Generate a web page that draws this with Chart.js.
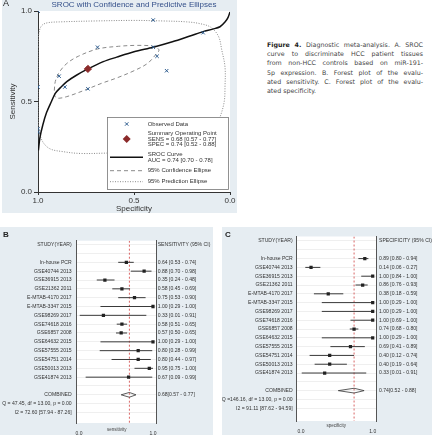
<!DOCTYPE html>
<html>
<head>
<meta charset="utf-8">
<script src="https://cdn.jsdelivr.net/npm/chart.js@4.4.0/dist/chart.umd.min.js"></script>
<style>
  body { margin:0; background:#fff; width:432px; height:435px; position:relative; overflow:hidden; }
  canvas { position:absolute; }
  #sroc { left:2px; top:0; }
  #sensForest { left:0; top:227px; }
  #specForest { left:222px; top:227px; }
  .cap { position:absolute; left:267px; top:40px; width:156px; font:6.3px/9.2px "DejaVu Sans", sans-serif; color:#444; }
  .cap span { display:block; text-align:justify; text-align-last:justify; }
  .cap span.last { text-align-last:left; }
  .cap b { color:#222; }
</style>
</head>
<body>
<canvas id="sroc" width="235" height="213"></canvas>
<canvas id="sensForest" width="213" height="208"></canvas>
<canvas id="specForest" width="210" height="208"></canvas>
<div class="cap">
<span><b>Figure 4.</b> Diagnostic meta-analysis. A. SROC</span>
<span>curve to discriminate HCC patient tissues</span>
<span>from non-HCC controls based on miR-191-</span>
<span>5p expression. B. Forest plot of the evalu-</span>
<span>ated sensitivity. C. Forest plot of the evalu-</span>
<span class="last">ated specificity.</span>
</div>
<script>
// study list, same order in both forest plots
var studies = ['In-house PCR', 'GSE40744 2013', 'GSE36915 2013', 'GSE21362 2011', 'E-MTAB-4170 2017',
  'E-MTAB-3347 2015', 'GSE98269 2017', 'GSE74618 2016', 'GSE6857 2008', 'GSE64632 2015',
  'GSE57555 2015', 'GSE54751 2014', 'GSE50013 2013', 'GSE41874 2013'];

var sensVal  = [0.64, 0.88, 0.35, 0.58, 0.75, 1.00, 0.33, 0.58, 0.57, 1.00, 0.80, 0.80, 0.95, 0.67];
var sensLow  = [0.53, 0.70, 0.24, 0.45, 0.53, 0.29, 0.01, 0.51, 0.50, 0.29, 0.28, 0.44, 0.75, 0.09];
var sensHigh = [0.74, 0.98, 0.48, 0.69, 0.90, 1.00, 0.91, 0.65, 0.65, 1.00, 0.99, 0.97, 1.00, 0.99];

var specVal  = [0.89, 0.14, 1.00, 0.86, 0.38, 1.00, 1.00, 1.00, 0.74, 1.00, 0.69, 0.40, 0.40, 0.33];
var specLow  = [0.80, 0.06, 0.84, 0.76, 0.18, 0.29, 0.29, 0.69, 0.68, 0.29, 0.41, 0.12, 0.19, 0.01];
var specHigh = [0.94, 0.27, 1.00, 0.93, 0.59, 1.00, 1.00, 1.00, 0.80, 1.00, 0.89, 0.74, 0.64, 0.91];

// pooled estimate [value, low, high]
var sensPooled = [0.68, 0.57, 0.77];
var specPooled = [0.74, 0.52, 0.88];
var aucPooled  = [0.74, 0.70, 0.78];
var sensHet = 'Q = 47.45, df = 13.00, p = 0.00';
var sensI2  = 'I2 = 72.60 [57.94 - 87.26]';
var specHet = 'Q =146.16, df = 13.00, p = 0.00';
var specI2  = 'I2 = 91.11 [87.62 - 94.59]';

// SROC curve
var srocSpec = [0.998, 0.99, 0.975, 0.955, 0.93, 0.91, 0.88, 0.85, 0.80, 0.74, 0.66, 0.59, 0.50, 0.40, 0.30, 0.20, 0.14, 0.09, 0.052, 0.025, 0.01, 0.0];
var srocSens = [0.23, 0.30, 0.37, 0.44, 0.50, 0.545, 0.58, 0.61, 0.645, 0.68, 0.72, 0.745, 0.775, 0.80, 0.83, 0.865, 0.886, 0.90, 0.913, 0.94, 0.965, 0.995];

// 95% confidence ellipse
var confSpec = [0.915, 0.91, 0.89, 0.85, 0.79, 0.69, 0.58, 0.48, 0.40, 0.37, 0.39, 0.43, 0.50, 0.59, 0.67, 0.74, 0.80, 0.85, 0.89, 0.91, 0.915];
var confSens = [0.56, 0.61, 0.66, 0.71, 0.75, 0.79, 0.805, 0.81, 0.805, 0.785, 0.755, 0.71, 0.67, 0.63, 0.60, 0.57, 0.545, 0.527, 0.518, 0.525, 0.56];

// 95% prediction ellipse
var predSpec = [1.0, 0.995, 0.98, 0.95, 0.88, 0.70, 0.50, 0.35, 0.226, 0.156, 0.10, 0.06, 0.043, 0.026, 0.026, 0.03, 0.05, 0.08, 0.15, 0.30, 0.45, 0.64, 0.78, 0.87, 0.94, 0.98, 0.998, 1.0, 1.0, 1.0];
var predSens = [0.80, 0.88, 0.92, 0.935, 0.94, 0.945, 0.948, 0.945, 0.94, 0.93, 0.91, 0.86, 0.785, 0.69, 0.58, 0.50, 0.42, 0.35, 0.29, 0.24, 0.22, 0.215, 0.213, 0.223, 0.24, 0.287, 0.37, 0.50, 0.65, 0.80];

var panelColor = '#e6edf2';
Chart.defaults.font.family = '"Liberation Sans", Arial, sans-serif';
Chart.defaults.color = '#333';

function pts(xs, ys) {
  return xs.map(function (x, i) { return { x: x, y: ys[i] }; });
}

var panelBg = {
  id: 'panelBg',
  beforeDraw: function (chart, args, o) {
    var ctx = chart.ctx, a = chart.chartArea;
    ctx.save();
    ctx.fillStyle = panelColor;
    ctx.fillRect(0, 0, chart.width, chart.height);
    ctx.fillStyle = '#fff';
    ctx.fillRect(a.left, a.top, a.right - a.left, a.bottom - a.top);
    ctx.fillStyle = '#222';
    ctx.font = o.letterFont;
    ctx.textBaseline = 'top';
    ctx.fillText(o.letter, o.lx, o.ly);
    ctx.restore();
  }
};

// ---------- A: SROC ----------
var srocExtras = {
  id: 'srocExtras',
  afterDraw: function (chart) {
    var ctx = chart.ctx, a = chart.chartArea;
    ctx.save();
    // title
    ctx.fillStyle = '#34508a';
    ctx.font = '8px "Liberation Sans", Arial';
    ctx.textAlign = 'center';
    ctx.textBaseline = 'middle';
    ctx.fillText('SROC with Confidence and Predictive Ellipses', (a.left + a.right) / 2, 5);

    // legend box
    var bx = a.right - 123, by = a.bottom - 75, bw = 121, bh = 72;
    ctx.fillStyle = '#fff';
    ctx.fillRect(bx, by, bw, bh);
    ctx.strokeStyle = '#777';
    ctx.lineWidth = 0.8;
    ctx.strokeRect(bx + 0.5, by + 0.5, bw, bh);

    var mx = bx + 19.7, tx = bx + 40.7;
    // observed
    ctx.strokeStyle = '#2c5b8e';
    ctx.lineWidth = 1;
    ctx.beginPath();
    ctx.moveTo(mx - 1.7, by + 5.3); ctx.lineTo(mx + 1.7, by + 8.7);
    ctx.moveTo(mx + 1.7, by + 5.3); ctx.lineTo(mx - 1.7, by + 8.7);
    ctx.stroke();
    // summary diamond
    ctx.fillStyle = '#8b2a2a';
    ctx.beginPath();
    ctx.moveTo(mx, by + 18); ctx.lineTo(mx + 4, by + 22); ctx.lineTo(mx, by + 26); ctx.lineTo(mx - 4, by + 22);
    ctx.closePath(); ctx.fill();
    // sroc line
    ctx.strokeStyle = '#111';
    ctx.lineWidth = 1.5;
    ctx.beginPath(); ctx.moveTo(bx + 3, by + 40.3); ctx.lineTo(bx + 36, by + 40.3); ctx.stroke();
    // confidence
    ctx.strokeStyle = '#8a8a8a';
    ctx.lineWidth = 1;
    ctx.setLineDash([4, 3]);
    ctx.beginPath(); ctx.moveTo(bx + 3, by + 53.7); ctx.lineTo(bx + 36, by + 53.7); ctx.stroke();
    // prediction
    ctx.setLineDash([1, 1.5]);
    ctx.beginPath(); ctx.moveTo(bx + 3, by + 64.7); ctx.lineTo(bx + 36, by + 64.7); ctx.stroke();
    ctx.setLineDash([]);

    function ci(p) { return p[0].toFixed(2) + ' [' + p[1].toFixed(2) + ' - ' + p[2].toFixed(2) + ']'; }
    ctx.fillStyle = '#333';
    ctx.font = '6px "Liberation Sans", Arial';
    ctx.textAlign = 'left';
    ctx.fillText('Observed Data', tx, by + 7);
    ctx.fillText('Summary Operating Point', tx, by + 16.3);
    ctx.fillText('SENS = ' + ci(sensPooled), tx, by + 22);
    ctx.fillText('SPEC = ' + ci(specPooled), tx, by + 27.5);
    ctx.fillText('SROC Curve', tx, by + 37.3);
    ctx.fillText('AUC = ' + ci(aucPooled), tx, by + 43.3);
    ctx.fillText('95% Confidence Ellipse', tx, by + 53.7);
    ctx.fillText('95% Prediction Ellipse', tx, by + 64.7);
    ctx.restore();
  }
};

var axisFont = { size: 8 };
new Chart(document.getElementById('sroc'), {
  type: 'scatter',
  data: {
    datasets: [
      {
        label: 'Observed Data',
        data: pts(specVal, sensVal),
        pointStyle: 'crossRot', pointRadius: 2.4, borderColor: '#2c5b8e', borderWidth: 1
      },
      {
        label: 'Summary Operating Point',
        data: [{ x: specPooled[0], y: sensPooled[0] }],
        pointStyle: 'rectRot', pointRadius: 3.6, backgroundColor: '#8b2a2a', borderColor: '#8b2a2a'
      },
      {
        label: 'SROC Curve',
        data: pts(srocSpec, srocSens),
        showLine: true, pointRadius: 0, borderColor: '#111', borderWidth: 1.5, tension: 0.3
      },
      {
        label: '95% Confidence Ellipse',
        data: pts(confSpec, confSens),
        showLine: true, pointRadius: 0, borderColor: '#8a8a8a', borderWidth: 1, borderDash: [4, 3], tension: 0.35
      },
      {
        label: '95% Prediction Ellipse',
        data: pts(predSpec, predSens),
        showLine: true, pointRadius: 0, borderColor: '#8a8a8a', borderWidth: 1, borderDash: [1, 1.5], tension: 0.35
      }
    ]
  },
  options: {
    responsive: false,
    animation: false,
    devicePixelRatio: 1,
    layout: { padding: { top: 11, right: 7, left: 0, bottom: 0 } },
    plugins: {
      legend: { display: false },
      tooltip: { enabled: false },
      panelBg: { letter: 'A', lx: 1, ly: -1, letterFont: '9px "Liberation Sans", Arial' }
    },
    scales: {
      x: {
        type: 'linear', reverse: true, min: 0, max: 1,
        afterFit: function (s) { s.height = 21; },
        ticks: { stepSize: 0.5, padding: 1, font: axisFont, color: '#333', callback: function (v) { return v.toFixed(1); } },
        grid: { drawOnChartArea: false, tickLength: 3, color: '#333' },
        border: { color: '#333' },
        title: { display: true, text: 'Specificity', color: '#333', font: { size: 8, lineHeight: 1 }, padding: { top: 0, bottom: 0 } }
      },
      y: {
        min: 0, max: 1,
        afterFit: function (s) { s.width = 36; },
        ticks: { stepSize: 0.5, padding: 2, font: axisFont, color: '#333', callback: function (v) { return v.toFixed(1); } },
        grid: { drawOnChartArea: false, tickLength: 4, color: '#333' },
        border: { color: '#333' },
        title: { display: true, text: 'Sensitivity', color: '#333', font: { size: 8, lineHeight: 1.2 }, padding: { top: 6, bottom: 0 } }
      }
    }
  },
  plugins: [panelBg, srocExtras]
});

// ---------- B and C: forest plots ----------
function forest(canvasId, g, vals, lows, highs, pooled, headRight, het, i2, axisTitle) {
  var first = 2;
  var comb = studies.length + 3;
  var fmt = function (v, l, h) { return v.toFixed(2) + ' [' + l.toFixed(2) + ' - ' + h.toFixed(2) + ']'; };
  var leftLabels = ['STUDY(YEAR)', ''].concat(studies, ['', 'COMBINED', het, i2]);
  var rightLabels = [headRight, ''].concat(
    vals.map(function (v, i) { return fmt(v, lows[i], highs[i]); }),
    ['', pooled[0].toFixed(2) + '[' + pooled[1].toFixed(2) + ' - ' + pooled[2].toFixed(2) + ']', '', '']);

  var squares = vals.map(function (v, i) { return { x: v, y: first + i }; });
  var bars = [];
  lows.forEach(function (l, i) {
    bars.push({ x: l, y: first + i }, { x: highs[i], y: first + i }, { x: null, y: null });
  });
  var diamond = [
    { x: pooled[1], y: comb }, { x: pooled[0], y: comb - 0.27 },
    { x: pooled[2], y: comb }, { x: pooled[0], y: comb + 0.27 }, { x: pooled[1], y: comb }
  ];
  var refLine = [{ x: pooled[0], y: g.yMin }, { x: pooled[0], y: g.yMax }];
  var rowTicks = function (s) { s.ticks = leftLabels.map(function (_, i) { return { value: i }; }); };
  var labelFont = { size: 5.1 };

  return new Chart(document.getElementById(canvasId), {
    type: 'scatter',
    data: {
      datasets: [
        { data: squares, pointStyle: 'rect', pointRadius: 2.3, backgroundColor: '#222', borderColor: '#222', borderWidth: 0 },
        { data: bars, showLine: true, pointRadius: 0, borderColor: '#3a3a3a', borderWidth: 1 },
        { data: diamond, showLine: true, pointRadius: 0, borderColor: '#333', borderWidth: 0.8 },
        { data: refLine, showLine: true, pointRadius: 0, borderColor: '#d04040', borderWidth: 0.8, borderDash: [2, 2] }
      ]
    },
    options: {
      responsive: false,
      animation: false,
      devicePixelRatio: 1,
      layout: { padding: { top: g.top, right: 0, left: 0, bottom: 0 } },
      plugins: {
        legend: { display: false },
        tooltip: { enabled: false },
        panelBg: { letter: g.letter, lx: 3, ly: 4, letterFont: 'bold 8px "Liberation Sans", Arial' }
      },
      scales: {
        x: {
          type: 'linear', min: g.xMin, max: g.xMax,
          afterBuildTicks: function (s) { s.ticks = [{ value: 0 }, { value: 1 }]; },
          afterFit: function (s) { s.height = g.xH; },
          ticks: { padding: 0, font: { size: 5 }, color: '#333', callback: function (v) { return v.toFixed(1); } },
          grid: { display: false },
          border: { display: false },
          title: { display: true, text: axisTitle, color: '#444', font: { size: 4.5, lineHeight: 1 }, padding: { top: 0, bottom: g.titlePad } }
        },
        y: {
          type: 'linear', position: 'left', reverse: true, min: g.yMin, max: g.yMax,
          afterBuildTicks: rowTicks,
          afterFit: function (s) { s.width = g.leftW; },
          ticks: { autoSkip: false, padding: g.leftPad, font: labelFont, color: '#333',
                   callback: function (v, i) { return leftLabels[i]; } },
          grid: { color: '#efefef', drawTicks: false },
          border: { color: '#555', width: 1 }
        },
        y2: {
          type: 'linear', position: 'right', reverse: true, min: g.yMin, max: g.yMax,
          afterBuildTicks: rowTicks,
          afterFit: function (s) { s.width = g.rightW; },
          ticks: { autoSkip: false, padding: g.rightPad, font: labelFont, color: '#333',
                   callback: function (v, i) { return rightLabels[i]; } },
          grid: { drawOnChartArea: false, drawTicks: false },
          border: { color: '#555', width: 1 }
        }
      }
    },
    plugins: [panelBg]
  });
}

forest('sensForest',
  { letter: 'B', top: 13.7, leftW: 76.7, rightW: 56.3, xH: 12, xMin: -0.031, xMax: 1.05, yMin: -0.45, yMax: 20.19, leftPad: 5, rightPad: 1, titlePad: 2.5 },
  sensVal, sensLow, sensHigh, sensPooled, 'SENSITIVITY (95% CI)', sensHet, sensI2, 'sensitivity');

forest('specForest',
  { letter: 'C', top: 9.5, leftW: 74.7, rightW: 56, xH: 14, xMin: -0.06, xMax: 1.046, yMin: -0.51, yMax: 20.45, leftPad: 4, rightPad: 3, titlePad: 6.5 },
  specVal, specLow, specHigh, specPooled, 'SPECIFICITY (95% CI)', specHet, specI2, 'specificity');
</script>
</body>
</html>
